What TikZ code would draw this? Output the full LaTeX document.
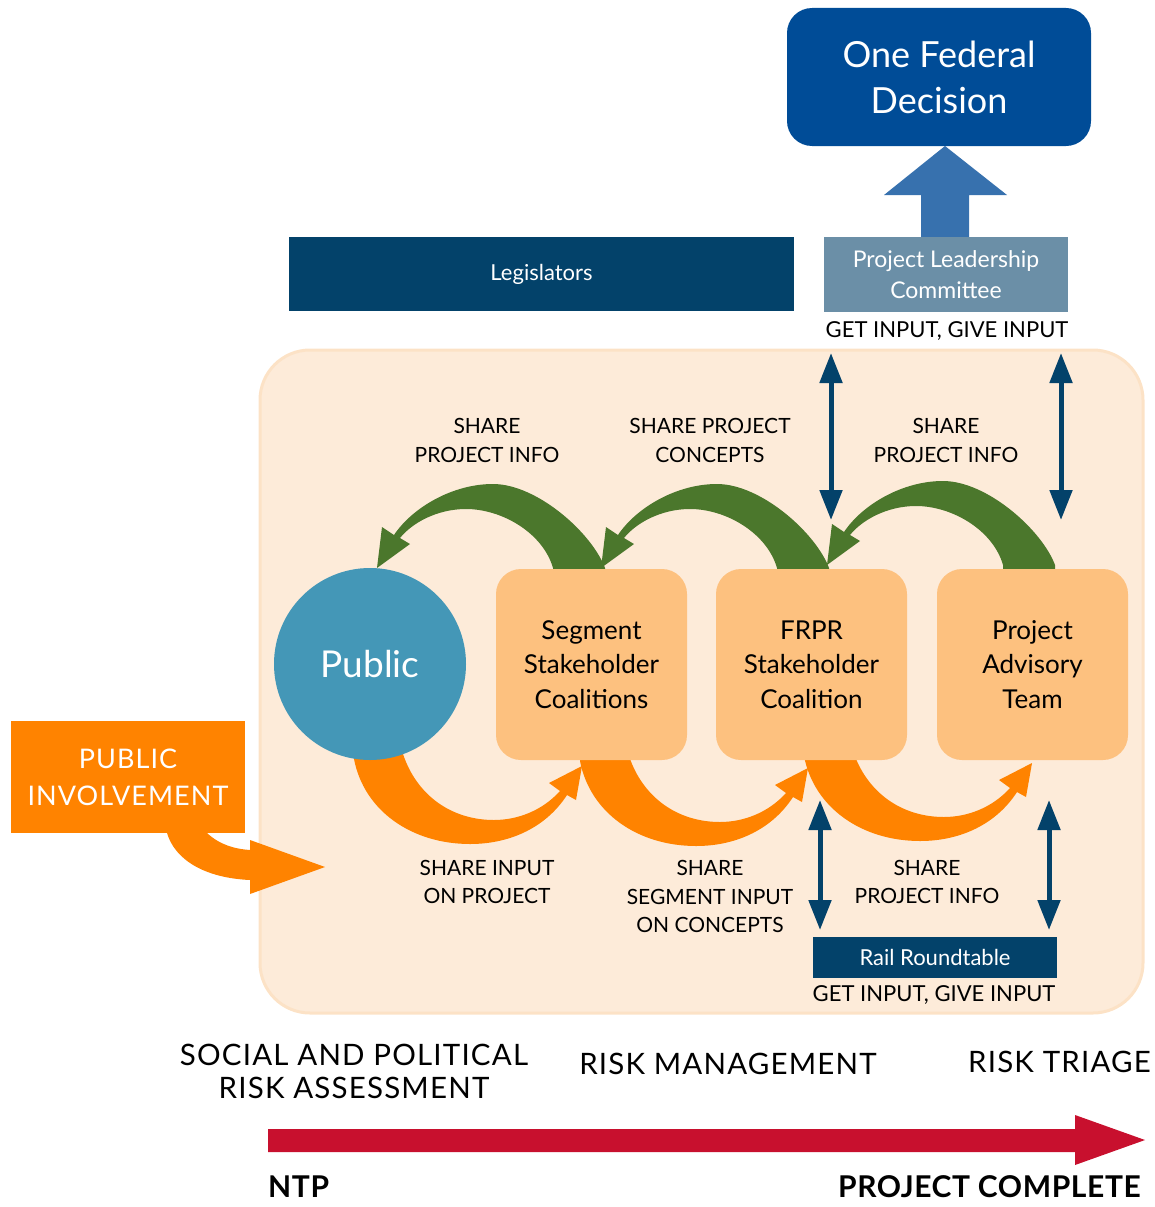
\documentclass[tikz,border=0pt]{standalone}
\usepackage{fontspec}
\setmainfont{Lato}
\newfontfamily\spfont[LetterSpace=4]{Lato}
\newfontfamily\spbold[LetterSpace=2]{Lato Bold}
\usetikzlibrary{arrows.meta}
\definecolor{peach}{HTML}{FDEBD9}
\definecolor{peachedge}{HTML}{FCE2C6}
\definecolor{fedblue}{HTML}{004C97}
\definecolor{navy}{HTML}{03426A}
\definecolor{plcgray}{HTML}{6B8FA7}
\definecolor{upblue}{HTML}{3771AE}
\definecolor{pubblue}{HTML}{4497B7}
\definecolor{boxor}{HTML}{FDC17F}
\definecolor{grn}{HTML}{4B772C}
\definecolor{orng}{HTML}{FF8300}
\definecolor{redarr}{HTML}{C8102E}
\newcommand\grarrow[1]{\fill[grn, shift={#1}] (0,0) -- (5,-41) -- (17,-33) .. controls (35,-60) and (75,-84) .. (116,-84) .. controls (160,-84) and (215,-35) .. (228,0) -- (228,12) -- (176,12) -- (176,0) .. controls (166,-35) and (125,-59) .. (89,-59) .. controls (60,-59) and (35,-45) .. (23,-30) -- (33,-24) -- cycle;}
\newcommand\orarrow[1]{\fill[orng, shift={#1}] (0,0) -- (-33,17) -- (-22,25) .. controls (-40,45) and (-65,54) .. (-88,54) .. controls (-130,54) and (-165,30) .. (-179,-12) -- (-179,-30) -- (-228,-30) -- (-228,-7) .. controls (-218,45) and (-170,78) .. (-112,78) .. controls (-70,78) and (-35,60) .. (-15,29) -- (-6,34) -- cycle;}
\begin{document}
\begin{tikzpicture}[x=1pt,y=-1pt,
  bgbox/.style={draw=peachedge, line width=3pt, fill=peach, rounded corners=50pt, minimum width=883pt, minimum height=663pt, inner sep=0pt},
  fedbox/.style={fill=fedblue, rounded corners=25pt, minimum width=304pt, minimum height=138pt, text=white, align=center, font=\fontsize{36}{46}\selectfont},
  darkbox/.style={fill=navy, text=white, align=center, inner sep=0pt},
  plcbox/.style={fill=plcgray, text=white, align=center, inner sep=0pt, minimum width=244pt, minimum height=75pt, font=\fontsize{23}{31}\selectfont},
  orbox/.style={fill=boxor, rounded corners=25pt, minimum width=191pt, minimum height=191pt, align=center, inner sep=0pt, font=\fontsize{26}{34.5}\selectfont},
  lbl/.style={align=center, inner sep=0pt, font=\fontsize{21}{28.5}\selectfont},
  big/.style={align=center, inner sep=0pt, font=\spfont\fontsize{29.5}{33}\selectfont},
  navyarr/.style={draw=navy, line width=5pt, {Triangle[width=22pt,length=30pt]}-{Triangle[width=22pt,length=30pt]}}
]
\useasboundingbox (0,0) rectangle (1154,1207);
% background region
\node[bgbox] (bg) at (701.5,681.5) {};
% up arrow to the decision
\fill[upblue] (921,238) -- (921,195) -- (884,195) -- (945,146) -- (1007,195) -- (969,195) -- (969,238) -- cycle;
\node[fedbox] (fed) at (939,77) {One Federal\\Decision};
\node[darkbox, minimum width=505pt, minimum height=74pt, font=\fontsize{22}{28}\selectfont] (leg) at (541.5,274) {Legislators};
\node[plcbox] (plc) at (946,274.5) {Project Leadership\\Committee};
\node[lbl, font=\fontsize{22}{28}\selectfont] (gi1) at (947,331) {GET INPUT, GIVE INPUT};
% green arrows
\grarrow{(377,568)}
\grarrow{(601,568)}
\grarrow{(827,565)}
% orange arrows
\orarrow{(582,766)}
\orarrow{(808,768)}
\orarrow{(1032,763)}
% public involvement arrow
\fill[orng] (167,820) -- (207,820) -- (207,833) .. controls (220,845) and (235,849) .. (250,850) -- (250,840) -- (325,867) -- (250,894) -- (250,880) .. controls (205,878) and (175,860) .. (167,833) -- cycle;
\node[fill=orng, minimum width=234pt, minimum height=112pt, inner sep=0pt, text=white, align=center, font=\spfont\fontsize{27}{37}\selectfont] (pi) at (128,777) {PUBLIC\\INVOLVEMENT};
% nodes
\node[circle, fill=pubblue, minimum size=192pt, inner sep=0pt, text=white, font=\fontsize{37}{40}\selectfont] (pub) at (370,664) {Public};
\node[orbox] (seg) at (591.5,664.5) {Segment\\Stakeholder\\Coalitions};
\node[orbox] (frpr) at (811.5,664.5) {FRPR\\Stakeholder\\Coalition};
\node[orbox] (pat) at (1032.5,664.5) {Project\\Advisory\\Team};
\node[darkbox, minimum width=244pt, minimum height=41pt, font=\fontsize{22}{28}\selectfont] (rr) at (935,957.5) {Rail Roundtable};
\node[lbl, font=\fontsize{22}{28}\selectfont] (gi2) at (934,995) {GET INPUT, GIVE INPUT};
% navy double arrows
\coordinate (t1a) at (831,353); \coordinate (t1b) at (831,520);
\coordinate (t2a) at (1061,353); \coordinate (t2b) at (1061,520);
\coordinate (b1a) at (820,800); \coordinate (b1b) at (820,930);
\coordinate (b2a) at (1049,800); \coordinate (b2b) at (1049,930);
\draw[navyarr] (t1a) -- (t1b);
\draw[navyarr] (t2a) -- (t2b);
\draw[navyarr] (b1a) -- (b1b);
\draw[navyarr] (b2a) -- (b2b);
% labels
\node[lbl] (l1) at (487,440.5) {SHARE\\PROJECT INFO};
\node[lbl] (l2) at (710,440.5) {SHARE PROJECT\\CONCEPTS};
\node[lbl] (l3) at (946,440.5) {SHARE\\PROJECT INFO};
\node[lbl] (l4) at (487,882) {SHARE INPUT\\ON PROJECT};
\node[lbl] (l5) at (710,896.5) {SHARE\\SEGMENT INPUT\\ON CONCEPTS};
\node[lbl] (l6) at (927,882) {SHARE\\PROJECT INFO};
% bottom phases
\node[big] (ph1) at (354,1071) {SOCIAL AND POLITICAL\\RISK ASSESSMENT};
\node[big] (ph2) at (728,1064) {RISK MANAGEMENT};
\node[big, anchor=east] (ph3) at (1151,1062) {RISK TRIAGE};
% timeline
\fill[redarr] (268,1129) -- (1075,1129) -- (1075,1115) -- (1145,1140) -- (1075,1165) -- (1075,1152) -- (268,1152) -- cycle;
\node[inner sep=0pt, anchor=west, font=\spbold\fontsize{30}{32}\selectfont] (ntp) at (268,1187) {NTP};
\node[inner sep=0pt, anchor=east, font=\spbold\fontsize{30}{32}\selectfont] (pc) at (1141,1187) {PROJECT COMPLETE};
\end{tikzpicture}
\end{document}
